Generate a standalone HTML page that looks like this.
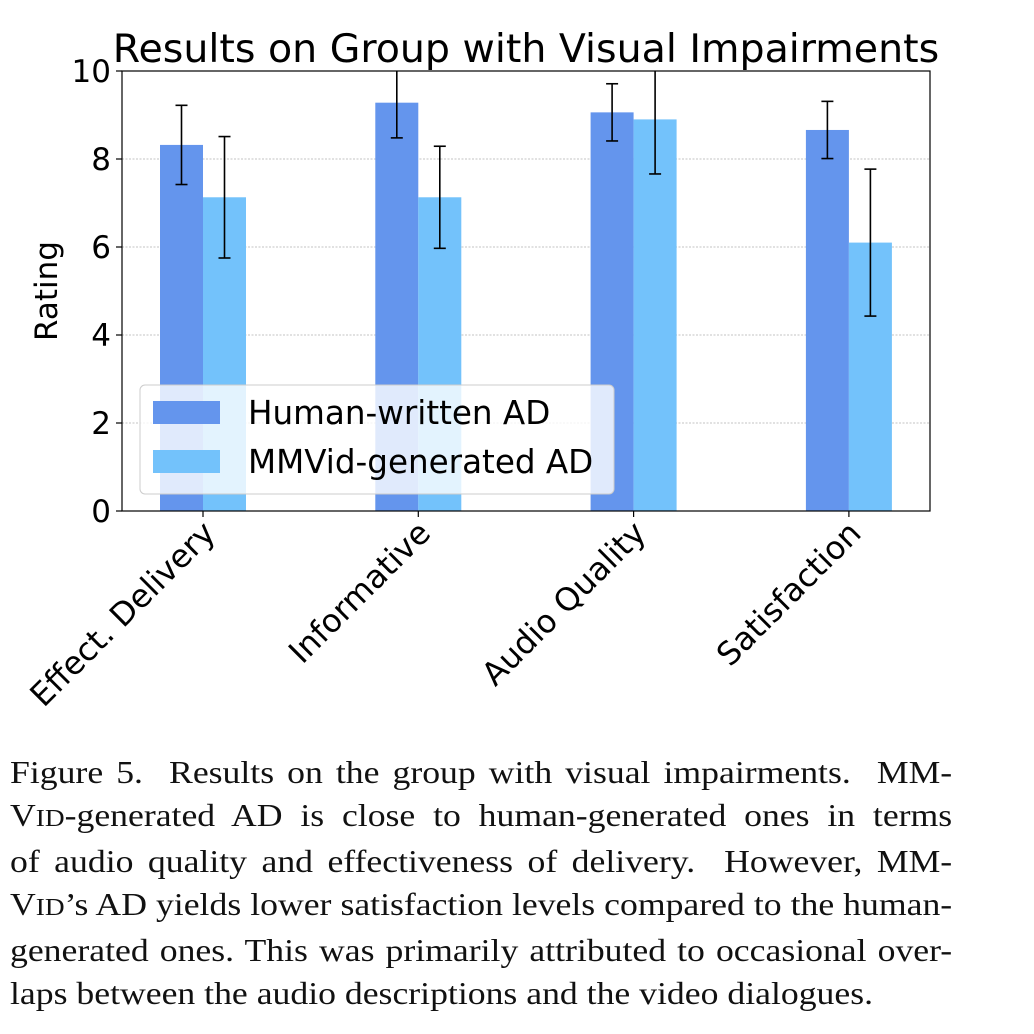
<!DOCTYPE html>
<html><head><meta charset="utf-8"><style>
body{margin:0;background:#fff;width:1034px;height:1034px;overflow:hidden}
#cap{position:absolute;left:10px;top:751px;width:845px;font-family:"Liberation Serif",serif;font-size:32px;line-height:43px;color:#111;transform:scaleX(1.115);transform-origin:0 0}
#cap div{text-align:justify;text-align-last:justify;white-space:nowrap}
#cap div.last{text-align-last:left}
.sc{font-size:24.5px}
</style></head><body>
<svg id="chart" width="1034" height="750" style="position:absolute;left:0;top:0" font-family="DejaVu Sans, Liberation Sans, sans-serif"></svg>
<div id="cap">
<div>Figure 5.&nbsp; Results on the group with visual impairments.&nbsp; MM-</div>
<div>V<span class="sc">ID</span>-generated AD is close to human-generated ones in terms</div>
<div>of audio quality and effectiveness of delivery.&nbsp; However, MM-</div>
<div>V<span class="sc">ID</span>’s AD yields lower satisfaction levels compared to the human-</div>
<div>generated ones. This was primarily attributed to occasional over-</div>
<div class="last">laps between the audio descriptions and the video dialogues.</div>
</div>
<script>
const categories=["Effect. Delivery","Informative","Audio Quality","Satisfaction"];
const humanVals=[8.32,9.28,9.06,8.66];
const humanErr=[0.9,0.8,0.65,0.65];
const mmvidVals=[7.13,7.13,8.9,6.1];
const mmvidErr=[1.38,1.16,1.24,1.67];
const yTicks=[0,2,4,6,8,10];
const NS="http://www.w3.org/2000/svg";
const svg=document.getElementById('chart');
const L=122,R=930,T=71,B=511;
const y=v=>B-(v/10)*(B-T);
const xc=i=>203+i*215.3;
const bw=43;
function mk(t,a,p){const e=document.createElementNS(NS,t);for(const k in a)e.setAttribute(k,a[k]);(p||svg).appendChild(e);return e;}
const cp=mk('clipPath',{id:'pc'});mk('rect',{x:L,y:T,width:R-L,height:B-T},cp);
yTicks.forEach(v=>{
 if(v>0&&v<10){const g=mk('line',{x1:L,x2:R,y1:y(v),y2:y(v),stroke:'#b0b0b0','stroke-width':0.8,'stroke-dasharray':'2,1.5'});
 }
 mk('line',{x1:L-6,x2:L,y1:y(v),y2:y(v),stroke:'#000','stroke-width':1.2});
 const t=mk('text',{x:L-11,y:y(v)+11,'text-anchor':'end','font-size':31});t.textContent=v;
 
});
const g=mk('g',{'clip-path':'url(#pc)'});
function bars(vals,errs,off,col,name){
 vals.forEach((v,i)=>{
  const r=mk('rect',{x:xc(i)+off,y:y(v),width:bw,height:B-y(v),fill:col},g);
  
 });
 vals.forEach((v,i)=>{
  const cx=xc(i)+off+bw/2,e=errs[i];
  mk('line',{x1:cx,x2:cx,y1:y(v-e),y2:y(v+e),stroke:'#000','stroke-width':1.6},g);
  mk('line',{x1:cx-6,x2:cx+6,y1:y(v-e),y2:y(v-e),stroke:'#000','stroke-width':1.6},g);
  mk('line',{x1:cx-6,x2:cx+6,y1:y(v+e),y2:y(v+e),stroke:'#000','stroke-width':1.6},g);
 });
}
bars(humanVals,humanErr,-bw,'#6495ED','human');
bars(mmvidVals,mmvidErr,0,'#73C2FB','mmvid');
mk('rect',{x:L,y:T,width:R-L,height:B-T,fill:'none',stroke:'#000','stroke-width':1.2});
categories.forEach((c,i)=>{
 mk('line',{x1:xc(i),x2:xc(i),y1:B,y2:B+6,stroke:'#000','stroke-width':1.2});
 const ax=xc(i)+14,ay=B+24;
 const t=mk('text',{x:ax,y:ay,'text-anchor':'end','font-size':32,transform:`rotate(-45 ${ax} ${ay})`});
 t.textContent=c;
});
const yl=mk('text',{x:57,y:291,'text-anchor':'middle','font-size':31,transform:'rotate(-90 57 291)'});yl.textContent='Rating';

const ti=mk('text',{x:526,y:62,'text-anchor':'middle','font-size':39.5});ti.textContent='Results on Group with Visual Impairments';

const lg=mk('g',{});
mk('rect',{x:140,y:385,width:474,height:109,rx:5,fill:'rgba(255,255,255,0.8)',stroke:'#ccc','stroke-width':1},lg);
mk('rect',{x:153,y:401,width:67,height:23,fill:'#6495ED'},lg);
mk('rect',{x:153,y:450,width:67,height:23,fill:'#73C2FB'},lg);
const l1=mk('text',{x:248,y:424,'font-size':32.6},lg);l1.textContent='Human-written AD';
const l2=mk('text',{x:248,y:473,'font-size':32.6},lg);l2.textContent='MMVid-generated AD';
</script>
</body></html>
